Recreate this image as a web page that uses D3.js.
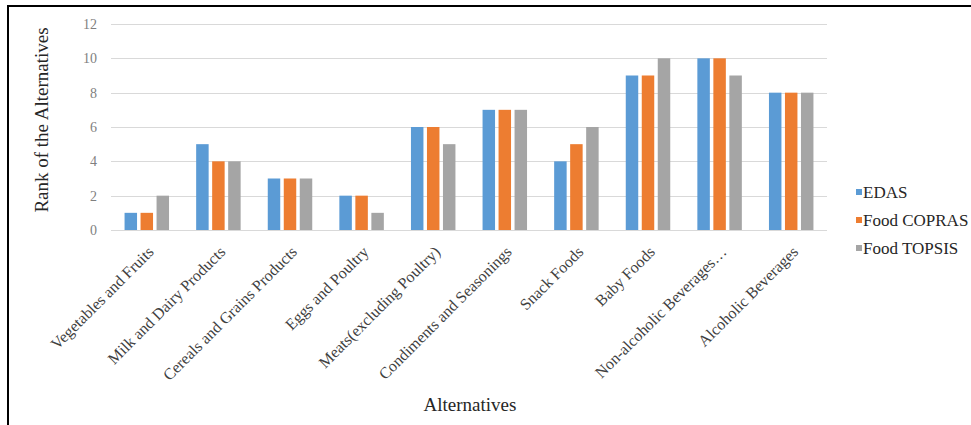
<!DOCTYPE html>
<html><head><meta charset="utf-8">
<script src="https://cdn.jsdelivr.net/npm/d3@7"></script>
<style>body{margin:0;background:#fff}svg{display:block}svg text{font-family:"Liberation Serif","DejaVu Serif",serif}</style>
</head><body>
<script>
const categories = ["Vegetables and Fruits","Milk and Dairy Products","Cereals and Grains Products","Eggs and Poultry","Meats(excluding Poultry)","Condiments and Seasonings","Snack Foods","Baby Foods","Non-alcoholic Beverages…","Alcoholic Beverages"];
const seriesNames = ["EDAS","Food COPRAS","Food TOPSIS"];
const edas   = [1,5,3,2,6,7,4,9,10,8];
const copras = [1,4,3,2,6,7,5,9,10,8];
const topsis = [2,4,3,1,5,7,6,10,9,8];
const yTicks = [0,2,4,6,8,10,12];
const colors = ["#5B9BD5","#ED7D31","#A5A5A5"];
const seriesValues = [edas, copras, topsis];

const W = 971, H = 425;
const svg = d3.select("body").append("svg").attr("width", W).attr("height", H);

// border (left + top)
svg.append("line").attr("x1",8).attr("x2",8).attr("y1",6).attr("y2",H).attr("stroke","#000").attr("stroke-width",2);
svg.append("line").attr("x1",7).attr("x2",W).attr("y1",6).attr("y2",6).attr("stroke","#000").attr("stroke-width",2);

const x0 = d3.scaleBand().domain(categories).range([111, 827]);
const x1 = d3.scaleBand().domain(seriesNames).range([0, 48]).paddingInner(0.22).paddingOuter(0.11);
const y = d3.scaleLinear().domain([0, 12]).range([230, 24]);

// gridlines
svg.append("g").selectAll("line").data(yTicks).join("line")
  .attr("x1", 111).attr("x2", 827)
  .attr("y1", d => Math.round(y(d)) + 0.5).attr("y2", d => Math.round(y(d)) + 0.5)
  .attr("stroke", "#d9d9d9").attr("stroke-width", 1);

// y tick labels
svg.append("g").selectAll("text").data(yTicks).join("text")
  .attr("x", 97).attr("y", d => y(d)).attr("dy", "0.35em")
  .attr("text-anchor", "end").attr("font-size", 14)
  .attr("fill", "#7f7f7f").text(d => d);

// bars
const groups = svg.append("g").selectAll("g").data(categories).join("g")
  .attr("transform", c => `translate(${x0(c) + (x0.bandwidth() - 48) / 2},0)`);
groups.selectAll("rect").data((c, i) => seriesNames.map((s, j) => ({s, v: seriesValues[j][i], j})))
  .join("rect")
  .attr("x", d => x1(d.s)).attr("width", x1.bandwidth())
  .attr("y", d => y(d.v)).attr("height", d => y(0) - y(d.v))
  .attr("fill", d => colors[d.j]);

// category labels
svg.append("g").selectAll("text").data(categories).join("text")
  .attr("transform", c => `translate(${x0(c) + x0.bandwidth() / 2 + 4},${249}) rotate(-45)`)
  .attr("text-anchor", "end").attr("dy", "0.35em")
  .attr("font-size", 16).attr("fill", "#404040")
  .text(c => c);

// axis titles
svg.append("text").attr("transform", "translate(48,120) rotate(-90)")
  .attr("text-anchor", "middle").attr("font-size", 19)
  .attr("fill", "#262626").text("Rank of the Alternatives");
svg.append("text").attr("x", 470).attr("y", 411)
  .attr("text-anchor", "middle").attr("font-size", 19)
  .attr("fill", "#262626").text("Alternatives");

// legend
const lg = svg.append("g").selectAll("g").data(seriesNames).join("g")
  .attr("transform", (d, i) => `translate(856,${192 + i * 28})`);
lg.append("rect").attr("x", 0).attr("y", -3).attr("width", 6).attr("height", 6).attr("fill", (d, i) => colors[i]);
lg.append("text").attr("x", 7).attr("dy", "0.35em").attr("font-size", 17)
  .attr("fill", "#262626").text(d => d);
</script>
</body></html>
